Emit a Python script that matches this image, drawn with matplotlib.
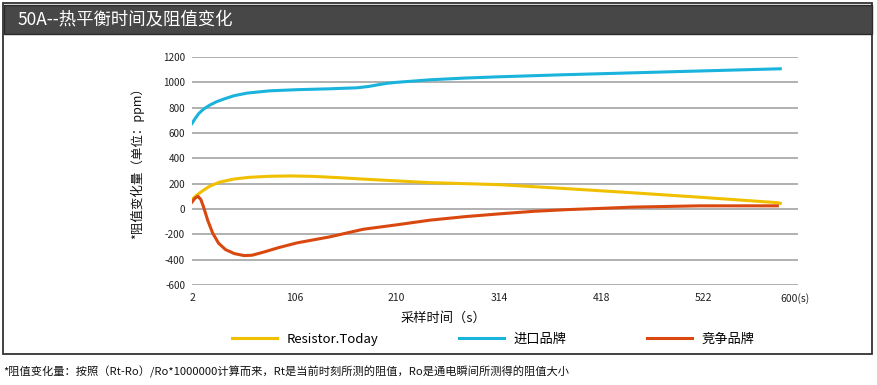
import matplotlib
matplotlib.use("Agg")
import matplotlib.pyplot as plt
from matplotlib.patches import Rectangle

plt.rcParams['font.family'] = ['Noto Sans CJK SC', 'DejaVu Sans']

# ---- data ----
title = "50A--热平衡时间及阻值变化"
ylabel = "*阻值变化量（单位：ppm）"
xlabel = "采样时间（s）"
footnote = "*阻值变化量：按照（Rt-Ro）/Ro*1000000计算而来，Rt是当前时刻所测的阻值，Ro是通电瞬间所测得的阻值大小"
series_names = ["Resistor.Today", "进口品牌", "竞争品牌"]

x_ticks = [2, 106, 210, 314, 418, 522, 600]
x_ticklabels = ["2", "106", "210", "314", "418", "522", "600(s)"]
y_ticks = [-600, -400, -200, 0, 200, 400, 600, 800, 1000, 1200]
y_ticklabels = ["-600", "-400", "-200", "0", "200", "400", "600", "800", "1000", "1200"]

rt_x = [2, 7, 13, 20, 30, 45, 60, 80, 101, 124, 150, 176, 210, 244, 280, 315, 380, 450, 520, 597, 600]
rt_y = [75, 110, 145, 180, 212, 237, 250, 258, 261, 258, 248, 236, 222, 208, 200, 192, 162, 128, 92, 50, 45]

imp_x = [2, 5, 9, 14, 20, 27, 35, 45, 58, 81, 109, 142, 170, 182, 192, 200, 210, 244, 280, 315, 380, 450, 520, 600]
imp_y = [675, 712, 755, 790, 820, 847, 870, 895, 915, 933, 942, 949, 957, 968, 982, 992, 1000, 1020, 1034, 1044, 1060, 1075, 1090, 1107]

cmp_x = [2, 5, 8, 11, 14, 18, 23, 29, 36, 45, 55, 63, 75, 90, 109, 142, 176, 210, 244, 280, 315, 350, 383, 418, 450, 518, 597]
cmp_y = [55, 85, 100, 75, 10, -90, -190, -270, -320, -352, -368, -365, -340, -305, -267, -220, -160, -125, -88, -60, -38, -18, -5, 5, 15, 25, 25]

colors = ["#f0c000", "#19b3dc", "#d9480f"]

# ---- figure ----
W, H = 877, 385
fig = plt.figure(figsize=(W / 100, H / 100), dpi=100)

def fx(px):
    return px / W

def fy(py):
    return 1 - py / H

# outer frame and title bar
fig.patches.append(Rectangle((fx(3), fy(354)), fx(869), 351 / H, transform=fig.transFigure,
                             fill=False, edgecolor="#333333", lw=1.3, zorder=0))
fig.patches.append(Rectangle((fx(4), fy(34)), fx(868), 29 / H, transform=fig.transFigure,
                             facecolor="#474747", edgecolor="#2a2a2a", lw=1.0, zorder=1))
fig.text(fx(17), fy(19.5), title, color="white", fontsize=12.5, va="center", ha="left")

ax = fig.add_axes([fx(192), fy(285), fx(798 - 192), (285 - 57) / H])
l1, = ax.plot(rt_x, rt_y, color=colors[0], lw=2.2, solid_joinstyle="round", zorder=3)
l2, = ax.plot(imp_x, imp_y, color=colors[1], lw=2.2, solid_joinstyle="round", zorder=3)
l3, = ax.plot(cmp_x, cmp_y, color=colors[2], lw=2.2, solid_joinstyle="round", zorder=4)

ax.set_xlim(2, 618)
ax.set_ylim(-600, 1200)
ax.set_yticks(y_ticks)
ax.set_yticklabels(y_ticklabels, fontsize=7.2, color="#222222")
ax.set_xticks(x_ticks)
ax.set_xticklabels(x_ticklabels, fontsize=7.5, color="#222222")
ax.tick_params(length=0, pad=5)
ax.tick_params(axis="x", pad=6)
labs = ax.get_xticklabels()
labs[-1].set_ha("left")
ax.grid(axis="y", color="#aaaaaa", lw=1.3)
ax.set_axisbelow(True)
for s in ax.spines.values():
    s.set_visible(False)

fig.text(fx(137), fy(160), ylabel, rotation=90, fontsize=9, ha="center", va="center", color="#111111")
fig.text(fx(443), fy(318), xlabel, fontsize=9.5, ha="center", va="center", color="#111111")

leg = fig.legend([l1, l2, l3], series_names, loc="center left",
                 bbox_to_anchor=(fx(220), fy(339)), ncol=3, frameon=False,
                 fontsize=9.5, handlelength=3.4, handletextpad=0.75, columnspacing=6.1)

fig.text(fx(3), fy(372), footnote, fontsize=8.1, ha="left", va="center", color="#111111")

fig.savefig("out.png", dpi=100)
